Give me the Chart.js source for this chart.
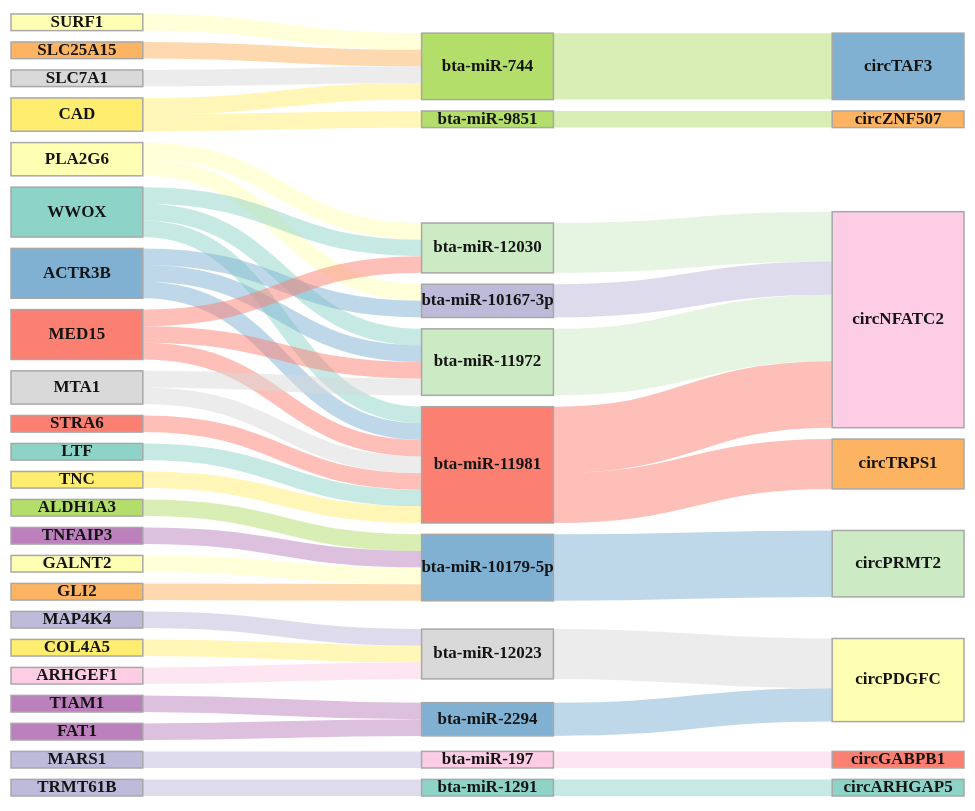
<!DOCTYPE html>
<html>
<head>
<meta charset="utf-8">
<title>gene - miRNA - circRNA sankey</title>
<script src="https://cdn.jsdelivr.net/npm/chart.js@4.4.1/dist/chart.umd.min.js"></script>
<style>
  html, body { margin: 0; padding: 0; background: #ffffff; }
  #wrap { width: 975px; height: 811px; position: relative; }
</style>
</head>
<body>
<div id="wrap"><canvas id="sankey"></canvas></div>
<script>
// nodes, one list per column (top to bottom)
const genes = ["SURF1", "SLC25A15", "SLC7A1", "CAD", "PLA2G6", "WWOX", "ACTR3B", "MED15",
  "MTA1", "STRA6", "LTF", "TNC", "ALDH1A3", "TNFAIP3", "GALNT2", "GLI2", "MAP4K4",
  "COL4A5", "ARHGEF1", "TIAM1", "FAT1", "MARS1", "TRMT61B"];
const mirnas = ["bta-miR-744", "bta-miR-9851", "bta-miR-12030", "bta-miR-10167-3p",
  "bta-miR-11972", "bta-miR-11981", "bta-miR-10179-5p", "bta-miR-12023", "bta-miR-2294",
  "bta-miR-197", "bta-miR-1291"];
const circs = ["circTAF3", "circZNF507", "circNFATC2", "circTRPS1", "circPRMT2",
  "circPDGFC", "circGABPB1", "circARHGAP5"];

// links: from / to / value
const linkFrom = [
  "SURF1", "SLC25A15", "SLC7A1", "CAD", "CAD", "PLA2G6", "PLA2G6",
  "WWOX", "WWOX", "WWOX", "ACTR3B", "ACTR3B", "ACTR3B", "MED15", "MED15", "MED15",
  "MTA1", "MTA1", "STRA6", "LTF", "TNC", "ALDH1A3", "TNFAIP3", "GALNT2", "GLI2",
  "MAP4K4", "COL4A5", "ARHGEF1", "TIAM1", "FAT1", "MARS1", "TRMT61B",
  "bta-miR-744", "bta-miR-9851", "bta-miR-12030", "bta-miR-10167-3p", "bta-miR-11972",
  "bta-miR-11981", "bta-miR-11981", "bta-miR-10179-5p", "bta-miR-12023", "bta-miR-2294",
  "bta-miR-197", "bta-miR-1291"];
const linkTo = [
  "bta-miR-744", "bta-miR-744", "bta-miR-744", "bta-miR-744", "bta-miR-9851",
  "bta-miR-12030", "bta-miR-10167-3p",
  "bta-miR-12030", "bta-miR-11972", "bta-miR-11981",
  "bta-miR-10167-3p", "bta-miR-11972", "bta-miR-11981",
  "bta-miR-12030", "bta-miR-11972", "bta-miR-11981",
  "bta-miR-11972", "bta-miR-11981", "bta-miR-11981", "bta-miR-11981", "bta-miR-11981",
  "bta-miR-10179-5p", "bta-miR-10179-5p", "bta-miR-10179-5p", "bta-miR-10179-5p",
  "bta-miR-12023", "bta-miR-12023", "bta-miR-12023", "bta-miR-2294", "bta-miR-2294",
  "bta-miR-197", "bta-miR-1291",
  "circTAF3", "circZNF507", "circNFATC2", "circNFATC2", "circNFATC2",
  "circNFATC2", "circTRPS1", "circPRMT2", "circPDGFC", "circPDGFC",
  "circGABPB1", "circARHGAP5"];
const linkValue = [
  1, 1, 1, 1, 1, 1, 1,
  1, 1, 1, 1, 1, 1, 1, 1, 1,
  1, 1, 1, 1, 1, 1, 1, 1, 1,
  1, 1, 1, 1, 1, 1, 1,
  4, 1, 3, 2, 4,
  4, 3, 4, 3, 2,
  1, 1];

// colours (Set3)
const nodeColors = {
  "SURF1": "#FFFFB3", "SLC25A15": "#FDB462", "SLC7A1": "#D9D9D9", "CAD": "#FFED6F",
  "PLA2G6": "#FFFFB3", "WWOX": "#8DD3C7", "ACTR3B": "#80B1D3", "MED15": "#FB8072",
  "MTA1": "#D9D9D9", "STRA6": "#FB8072", "LTF": "#8DD3C7", "TNC": "#FFED6F",
  "ALDH1A3": "#B3DE69", "TNFAIP3": "#BC80BD", "GALNT2": "#FFFFB3", "GLI2": "#FDB462",
  "MAP4K4": "#BEBADA", "COL4A5": "#FFED6F", "ARHGEF1": "#FCCDE5", "TIAM1": "#BC80BD",
  "FAT1": "#BC80BD", "MARS1": "#BEBADA", "TRMT61B": "#BEBADA",
  "bta-miR-744": "#B3DE69", "bta-miR-9851": "#B3DE69", "bta-miR-12030": "#CCEBC5",
  "bta-miR-10167-3p": "#BEBADA", "bta-miR-11972": "#CCEBC5", "bta-miR-11981": "#FB8072",
  "bta-miR-10179-5p": "#80B1D3", "bta-miR-12023": "#D9D9D9", "bta-miR-2294": "#80B1D3",
  "bta-miR-197": "#FCCDE5", "bta-miR-1291": "#8DD3C7",
  "circTAF3": "#80B1D3", "circZNF507": "#FDB462", "circNFATC2": "#FCCDE5",
  "circTRPS1": "#FDB462", "circPRMT2": "#CCEBC5", "circPDGFC": "#FFFFB3",
  "circGABPB1": "#FB8072", "circARHGAP5": "#8DD3C7"
};

const PAD = 0.685;     // gap between nodes, in value units
const NODE_W = 0.321;  // node width, in column units
const ITERATIONS = 32;

function hexA(hex, a) {
  const n = parseInt(hex.slice(1), 16);
  return "rgba(" + (n >> 16) + "," + ((n >> 8) & 255) + "," + (n & 255) + "," + a + ")";
}

// classic sankey layout (center based relaxation), worked out in value units
function layoutSankey() {
  const names = genes.concat(mirnas, circs);
  const nodes = names.map((name, i) => ({ name: name, index: i, sourceLinks: [], targetLinks: [] }));
  const byName = {};
  nodes.forEach(n => { byName[n.name] = n; });
  const links = linkFrom.map((s, i) => ({
    index: i, source: byName[s], target: byName[linkTo[i]], value: linkValue[i]
  }));
  links.forEach(l => { l.source.sourceLinks.push(l); l.target.targetLinks.push(l); });
  nodes.forEach(n => {
    let a = 0, b = 0;
    n.sourceLinks.forEach(l => { a += l.value; });
    n.targetLinks.forEach(l => { b += l.value; });
    n.value = Math.max(a, b);
  });

  // columns
  let remaining = nodes.filter(n => n.targetLinks.length === 0);
  let x = 0;
  while (remaining.length) {
    const next = [];
    remaining.forEach(n => {
      n.layer = x;
      n.sourceLinks.forEach(l => { if (next.indexOf(l.target) < 0) next.push(l.target); });
    });
    remaining = next;
    x++;
  }
  const nCols = x;
  nodes.forEach(n => { if (!n.sourceLinks.length) n.layer = nCols - 1; });
  const columns = [];
  for (let i = 0; i < nCols; i++) columns.push(nodes.filter(n => n.layer === i));

  let extent = 0;
  columns.forEach(c => {
    let s = 0;
    c.forEach(n => { s += n.value; });
    extent = Math.max(extent, s + (c.length - 1) * PAD);
  });
  let ky = Infinity;
  columns.forEach(c => {
    let s = 0;
    c.forEach(n => { s += n.value; });
    ky = Math.min(ky, (extent - (c.length - 1) * PAD) / s);
  });
  columns.forEach(c => c.forEach((n, i) => { n.y = i * 1e-3; n.dy = n.value * ky; }));
  links.forEach(l => { l.dy = l.value * ky; });

  const center = n => n.y + n.dy / 2;

  function resolveCollisions() {
    columns.forEach(col => {
      col.sort((a, b) => a.y - b.y);
      let y0 = 0, node, dy;
      for (let i = 0; i < col.length; i++) {
        node = col[i];
        dy = y0 - node.y;
        if (dy > 0) node.y += dy;
        y0 = node.y + node.dy + PAD;
      }
      dy = y0 - PAD - extent;
      if (dy > 0) {
        y0 = node.y -= dy;
        for (let i = col.length - 2; i >= 0; --i) {
          node = col[i];
          dy = node.y + node.dy + PAD - y0;
          if (dy > 0) node.y -= dy;
          y0 = node.y;
        }
      }
    });
  }
  function relaxLeftToRight(alpha) {
    columns.forEach(col => col.forEach(n => {
      if (!n.targetLinks.length) return;
      let s = 0, w = 0;
      n.targetLinks.forEach(l => { s += center(l.source) * l.value; w += l.value; });
      n.y += (s / w - center(n)) * alpha;
    }));
  }
  function relaxRightToLeft(alpha) {
    columns.slice().reverse().forEach(col => col.forEach(n => {
      if (!n.sourceLinks.length) return;
      let s = 0, w = 0;
      n.sourceLinks.forEach(l => { s += center(l.target) * l.value; w += l.value; });
      n.y += (s / w - center(n)) * alpha;
    }));
  }

  resolveCollisions();
  let alpha = 1;
  for (let it = ITERATIONS; it > 0; --it) {
    alpha *= 0.99;
    relaxRightToLeft(alpha);
    resolveCollisions();
    relaxLeftToRight(alpha);
    resolveCollisions();
  }

  // link offsets inside nodes
  nodes.forEach(n => {
    n.sourceLinks.sort((a, b) => a.target.y - b.target.y);
    n.targetLinks.sort((a, b) => a.source.y - b.source.y);
  });
  nodes.forEach(n => {
    let sy = 0, ty = 0;
    n.sourceLinks.forEach(l => { l.sy = sy; sy += l.dy; });
    n.targetLinks.forEach(l => { l.ty = ty; ty += l.dy; });
  });

  return { nodes: nodes, links: links, extent: extent, nCols: nCols };
}

const graph = layoutSankey();

const sankeyPlugin = {
  id: "sankeyDraw",
  afterDatasetsDraw(chart) {
    const ctx = chart.ctx;
    const xs = chart.scales.x;
    const ys = chart.scales.y;
    const unit = Math.abs(ys.getPixelForValue(1) - ys.getPixelForValue(0));
    ctx.save();

    // flows
    graph.links.forEach(l => {
      const xa = xs.getPixelForValue(l.source.layer + NODE_W);
      const xb = xs.getPixelForValue(l.target.layer);
      const ya = ys.getPixelForValue(l.source.y + l.sy + l.dy / 2);
      const yb = ys.getPixelForValue(l.target.y + l.ty + l.dy / 2);
      const xm = (xa + xb) / 2;
      ctx.beginPath();
      ctx.moveTo(xa, ya);
      ctx.bezierCurveTo(xm, ya, xm, yb, xb, yb);
      ctx.strokeStyle = hexA(nodeColors[l.source.name], 0.5);
      ctx.lineWidth = Math.max(1, l.dy * unit);
      ctx.lineCap = "butt";
      ctx.stroke();
    });

    // nodes and labels
    ctx.font = 'bold 17px "Liberation Serif", "Times New Roman", serif';
    ctx.textAlign = "center";
    ctx.textBaseline = "middle";
    graph.nodes.forEach(n => {
      const xa = xs.getPixelForValue(n.layer);
      const xb = xs.getPixelForValue(n.layer + NODE_W);
      const ya = ys.getPixelForValue(n.y);
      const yb = ys.getPixelForValue(n.y + n.dy);
      ctx.fillStyle = nodeColors[n.name];
      ctx.fillRect(xa, ya, xb - xa, yb - ya);
      ctx.strokeStyle = "#A8A8A8";
      ctx.lineWidth = 1.5;
      ctx.strokeRect(xa, ya, xb - xa, yb - ya);
      ctx.fillStyle = "#141414";
      ctx.fillText(n.name, (xa + xb) / 2, (ya + yb) / 2);
    });
    ctx.restore();
  }
};

new Chart(document.getElementById("sankey"), {
  type: "scatter",
  data: { datasets: [] },
  options: {
    responsive: true,
    maintainAspectRatio: false,
    animation: false,
    layout: { padding: { left: 11, right: 11, top: 14, bottom: 15 } },
    scales: {
      x: { type: "linear", min: 0, max: graph.nCols - 1 + NODE_W, display: false },
      y: { type: "linear", min: 0, max: graph.extent, reverse: true, display: false }
    },
    plugins: {
      legend: { display: false },
      tooltip: { enabled: false }
    }
  },
  plugins: [sankeyPlugin]
});
</script>
</body>
</html>
